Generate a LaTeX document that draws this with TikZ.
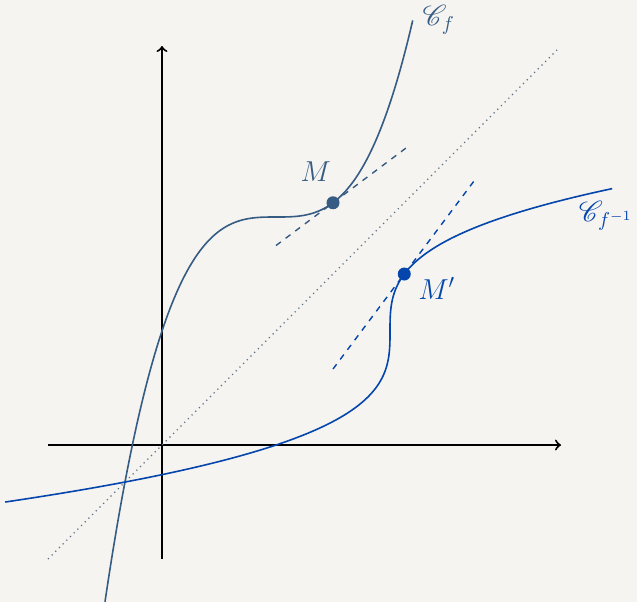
\documentclass[tikz,border=0pt]{standalone}
\usepackage{amsmath, amssymb}
\usepackage{mathrsfs}
\usetikzlibrary{arrows,positioning,calc}

\definecolor{fcol}{RGB}{54,92,132}
\definecolor{gcol}{RGB}{4,70,172}
\definecolor{dotcol}{RGB}{92,110,130}
\definecolor{bgcol}{RGB}{246,244,240}

\begin{document}
\begin{tikzpicture}[
    axisline/.style={->, line width=1pt},
    fcurve/.style={fcol, line width=0.8pt},
    invcurve/.style={gcol, line width=0.8pt},
    tangentline/.style={dashed, line width=0.7pt},
    pointdot/.style={circle, inner sep=0pt, minimum size=6.5pt},
    lbl/.style={font=\Large}
]
    % background and frame
    \fill[bgcol] (-2.842,-2.754) rectangle (8.333,7.807);
    \useasboundingbox (-2.842,-2.754) rectangle (8.333,7.807);

    % axes
    \coordinate (xmin) at (-2,0);
    \coordinate (xmax) at (7,0);
    \coordinate (ymin) at (0,-2);
    \coordinate (ymax) at (0,7);
    \draw[axisline] (xmin) -- (xmax);
    \draw[axisline] (ymin) -- (ymax);

    % line y = x
    \coordinate (d1) at (-2,-2);
    \coordinate (d2) at (6.95,6.95);
    \draw[dotted, dotcol, line width=0.6pt] (d1) -- (d2);

    % curve of f and of its inverse
    \draw[fcurve, domain=-1:4.4, samples=120, smooth]
        plot (\x, {4+(\x-2)*(\x-2)*(\x-2)/4});
    \draw[invcurve, domain=-1:4.5, samples=120, smooth, variable=\t]
        plot ({4+(\t-2)*(\t-2)*(\t-2)/4}, \t);
    \coordinate (fend) at (4.4,7.456);
    \coordinate (gend) at (7.906,4.5);

    % tangents
    \coordinate (t1) at (2,3.5);
    \coordinate (t2) at (4.33,5.2475);
    \coordinate (s1) at (3,1.3333);
    \coordinate (s2) at (5.5,4.6667);
    \draw[tangentline, fcol] (t1) -- (t2);
    \draw[tangentline, gcol] (s1) -- (s2);

    % points
    \node (M) [pointdot, fill=fcol] at (3,4.25) {};
    \node (Mp) [pointdot, fill=gcol] at (4.25,3) {};

    % labels
    \node (Mlabel) [lbl, fcol] at ($(M)+(-0.3,0.54)$) {$M$};
    \node (Mplabel) [lbl, gcol] at ($(Mp)+(0.57,-0.25)$) {$M'$};
    \node (flabel) [lbl, fcol, right=0.05cm of fend] {$\mathscr{C}_f$};
    \node (glabel) [lbl, gcol, below=0.1cm of gend, xshift=-0.12cm] {$\mathscr{C}_{f^{-1}}$};
\end{tikzpicture}
\end{document}
